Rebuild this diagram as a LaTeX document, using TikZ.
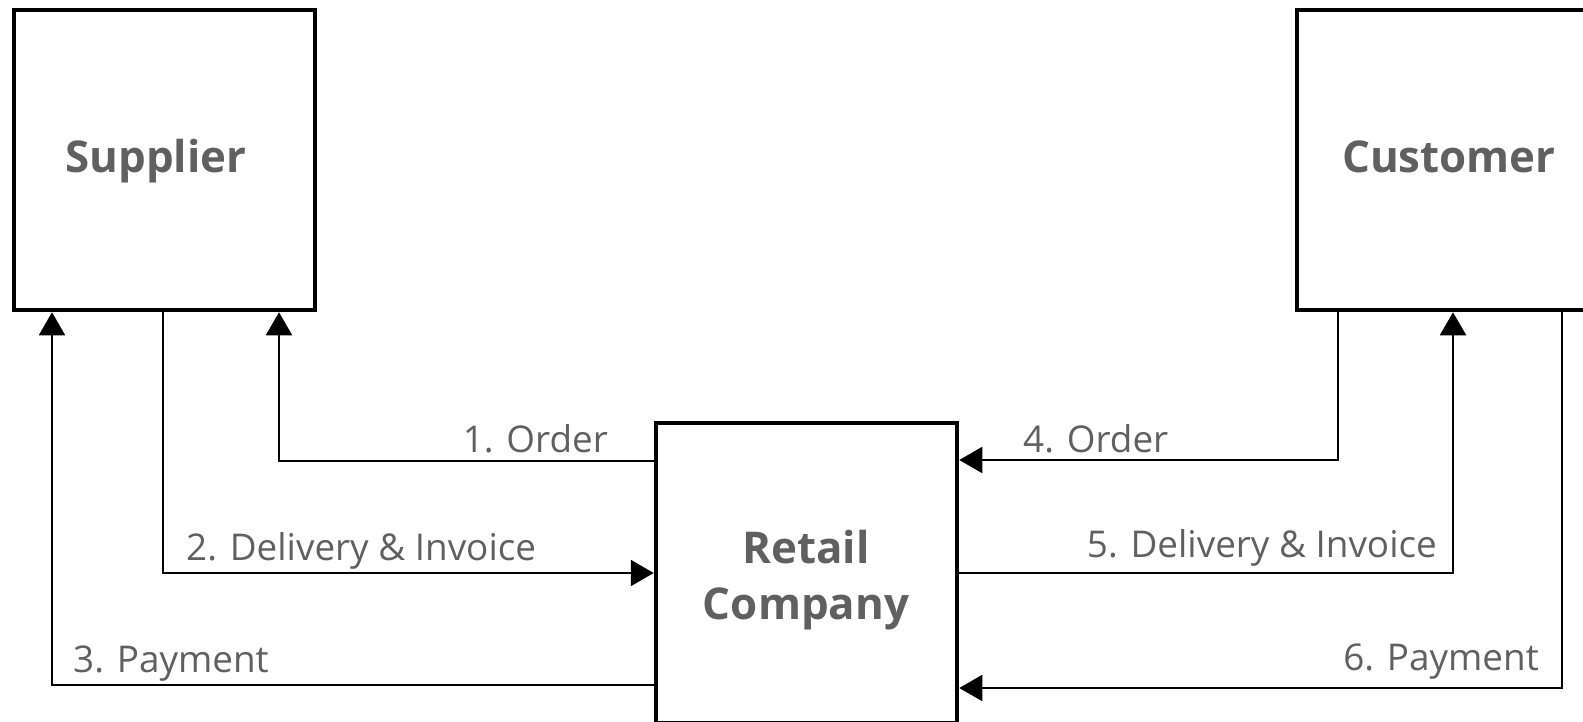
\documentclass[tikz,border=0pt]{standalone}
\usepackage{fontspec}
\setmainfont{Open Sans}
\usetikzlibrary{arrows.meta}
\definecolor{txtgray}{HTML}{606060}
\tikzset{
  entity/.style={draw=black, line width=4.5bp, fill=white, minimum width=301bp,
    minimum height=300bp, inner sep=0pt},
  entitytext/.style={text=txtgray, inner sep=0pt, align=center,
    font=\fontsize{44}{56}\selectfont\bfseries},
  flow/.style={draw=black, line width=2bp},
  flowarrow/.style={flow, -{Triangle[width=26bp,length=23bp]}},
  flowlabel/.style={text=txtgray, inner sep=0pt, font=\fontsize{37}{43}\selectfont}
}
\begin{document}
\begin{tikzpicture}[x=1bp,y=-1bp]
  \useasboundingbox (0,0) rectangle (1583,722);
  \clip (0,0) rectangle (1583,722);

  % the three parties
  \node[entity] (sup)  at (164.5,160) {};
  \node[entity] (cust) at (1447.5,160) {};
  \node[entity] (ret)  at (806.5,573) {};
  \node[entitytext, anchor=base] (suptxt) at (156,172) {Supplier};
  \node[entitytext, anchor=base] (custtxt) at (1449,172) {Customer};
  \node[entitytext, anchor=base] (rettxt1) at (806,563) {Retail};
  \node[entitytext, anchor=base] (rettxt2) at (806,619) {Company};

  % attachment points on the boxes
  \path (ret.west) ++(0,-112) coordinate (rw1);
  \path (ret.west) ++(0,0)    coordinate (rw2);
  \path (ret.west) ++(0,112)  coordinate (rw3);
  \path (ret.east) ++(0,-113) coordinate (re4);
  \path (ret.east) ++(0,0)    coordinate (re5);
  \path (ret.east) ++(0,115)  coordinate (re6);
  \path (sup.south) ++(-112.5,0) coordinate (s3);
  \path (sup.south) ++(-1.5,0)   coordinate (s2);
  \path (sup.south) ++(114.5,0)  coordinate (s1);
  \path (cust.south) ++(-109.5,0) coordinate (c4);
  \path (cust.south) ++(5.5,0)    coordinate (c5);
  \path (cust.south) ++(114.5,0)  coordinate (c6);

  % flows between supplier and retailer
  \draw[flowarrow] (rw1) -| (s1);
  \draw[flowarrow] (s2) |- (rw2);
  \draw[flowarrow] (rw3) -| (s3);

  % flows between customer and retailer
  \draw[flowarrow] (c4) |- (re4);
  \draw[flowarrow] (re5) -| (c5);
  \draw[flowarrow] (c6) |- (re6);

  % flow labels
  \node[flowlabel, anchor=base east] (l1) at (608,452) {1. Order};
  \node[flowlabel, anchor=base west] (l2) at (186,560) {2. Delivery \& Invoice};
  \node[flowlabel, anchor=base west] (l3) at (73,672) {3. Payment};
  \node[flowlabel, anchor=base west] (l4) at (1023,452) {4. Order};
  \node[flowlabel, anchor=base east] (l5) at (1437,557) {5. Delivery \& Invoice};
  \node[flowlabel, anchor=base east] (l6) at (1539,670) {6. Payment};
\end{tikzpicture}
\end{document}
